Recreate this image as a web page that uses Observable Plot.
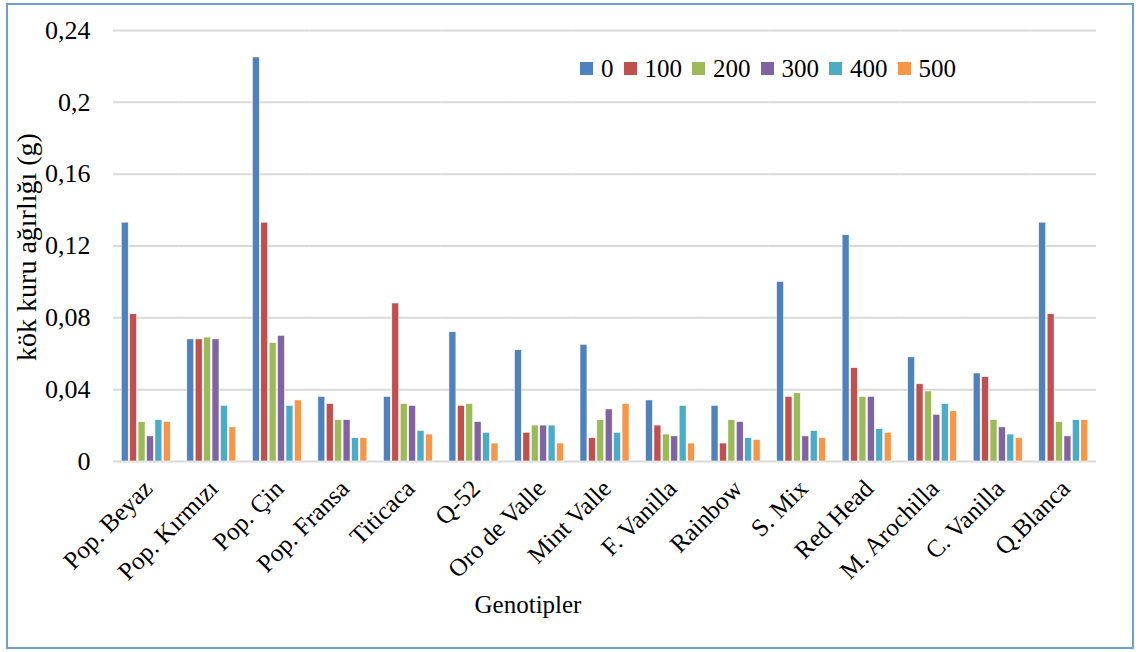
<!DOCTYPE html>
<html>
<head>
<meta charset="utf-8">
<script src="https://cdn.jsdelivr.net/npm/d3@7"></script>
<script src="https://cdn.jsdelivr.net/npm/@observablehq/plot@0.6"></script>
<style>
  html, body { margin: 0; padding: 0; background: #fff; }
  #wrap { position: relative; width: 1139px; height: 652px; overflow: hidden; font-family: "Liberation Serif", "Times New Roman", serif; color: #000; }
  #border { position: absolute; left: 6px; top: 3px; width: 1128px; height: 646px; border: 2px solid #6f9fd8; box-sizing: border-box; pointer-events: none; }
  #ylab { position: absolute; left: 27px; top: 247px; transform: translate(-50%, -50%) rotate(-90deg); font-size: 28px; line-height: 28px; white-space: nowrap; }
  #xlab { position: absolute; left: 528px; top: 592px; transform: translateX(-50%); font-size: 25px; line-height: 25px; white-space: nowrap; }
  #legend { position: absolute; left: 580px; top: 52px; }
  .lg-swatch { margin-right: 10px !important; }
  .lg-swatch > svg { margin-right: 8px !important; }
</style>
</head>
<body>
<div id="wrap">
  <div id="chart"></div>
  <div id="legend"></div>
  <div id="ylab">kök kuru ağırlığı (g)</div>
  <div id="xlab">Genotipler</div>
  <div id="border"></div>
</div>
<script>
const genotypes = ["Pop. Beyaz", "Pop. Kırmızı", "Pop. Çin", "Pop. Fransa", "Titicaca", "Q-52", "Oro de Valle", "Mint Valle", "F. Vanilla", "Rainbow", "S. Mix", "Red Head", "M. Arochilla", "C. Vanilla", "Q.Blanca"];
const doses = ["0", "100", "200", "300", "400", "500"];
const s0   = [0.133, 0.068, 0.225, 0.036, 0.036, 0.072, 0.062, 0.065, 0.034, 0.031, 0.100, 0.126, 0.058, 0.049, 0.133];
const s100 = [0.082, 0.068, 0.133, 0.032, 0.088, 0.031, 0.016, 0.013, 0.020, 0.010, 0.036, 0.052, 0.043, 0.047, 0.082];
const s200 = [0.022, 0.069, 0.066, 0.023, 0.032, 0.032, 0.020, 0.023, 0.015, 0.023, 0.038, 0.036, 0.039, 0.023, 0.022];
const s300 = [0.014, 0.068, 0.070, 0.023, 0.031, 0.022, 0.020, 0.029, 0.014, 0.022, 0.014, 0.036, 0.026, 0.019, 0.014];
const s400 = [0.023, 0.031, 0.031, 0.013, 0.017, 0.016, 0.020, 0.016, 0.031, 0.013, 0.017, 0.018, 0.032, 0.015, 0.023];
const s500 = [0.022, 0.019, 0.034, 0.013, 0.015, 0.010, 0.010, 0.032, 0.010, 0.012, 0.013, 0.016, 0.028, 0.013, 0.023];
const yTicks = [0, 0.04, 0.08, 0.12, 0.16, 0.2, 0.24];
const colors = ["#4f81bd", "#c0504d", "#9bbb59", "#8064a2", "#4bacc6", "#f79646"];

const series = [s0, s100, s200, s300, s400, s500];
const rows = [];
genotypes.forEach((g, i) => {
  doses.forEach((d, j) => rows.push({genotype: g, dose: d, value: series[j][i]}));
});

const fmt = d => d === 0 ? "0" : String(d).replace(".", ",");

const chart = Plot.plot({
  width: 1139,
  height: 652,
  marginLeft: 113,
  marginRight: 43,
  marginTop: 30,
  marginBottom: 191,
  style: {fontFamily: "'Liberation Serif', 'Times New Roman', serif", fontSize: "25px", color: "#000", background: "transparent", overflow: "visible"},
  fx: {domain: genotypes, padding: 0, round: false, label: null},
  x: {domain: doses, paddingInner: 0.17, paddingOuter: 0.98, round: false, axis: null},
  y: {domain: [0, 0.24]},
  color: {domain: doses, range: colors},
  marks: [
    Plot.gridY({ticks: yTicks, stroke: "#d9d9d9", strokeOpacity: 1, strokeWidth: 2}),
    Plot.barY(rows, {fx: "genotype", x: "dose", y: "value", fill: "dose", stroke: "#ffffff", strokeWidth: 0.6}),
    Plot.axisY({ticks: yTicks, tickFormat: fmt, tickSize: 0, tickPadding: 23, fontSize: 26, label: null}),
    Plot.axisFx({anchor: "bottom", tickRotate: -45, tickSize: 0, tickPadding: 23, dx: 2, label: null})
  ]
});
document.getElementById("chart").appendChild(chart);

const legend = Plot.legend({
  color: {type: "ordinal", domain: doses, range: colors},
  swatchSize: 13,
  className: "lg",
  style: {fontFamily: "'Liberation Serif', 'Times New Roman', serif", fontSize: "25px", color: "#000"}
});
document.getElementById("legend").appendChild(legend);
</script>
</body>
</html>
